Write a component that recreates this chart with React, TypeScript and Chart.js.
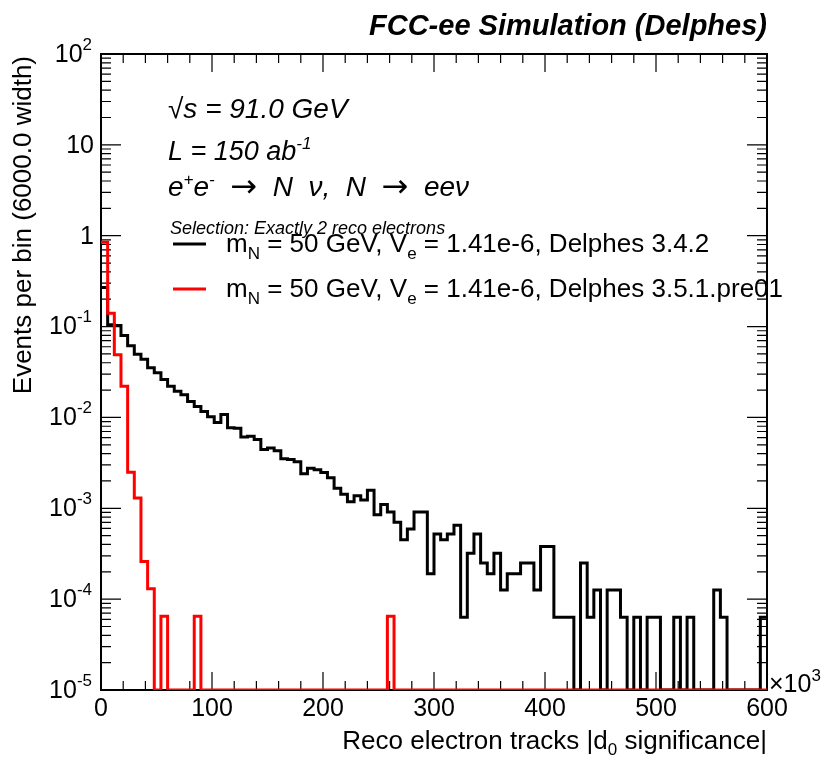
import React, { useEffect, useRef } from 'react';
import { Chart, registerables } from 'chart.js';

Chart.register(...registerables);

const W = 823;
const H = 761;

// Histogram definition (x in units of 10^3)
const X_MIN = 0;
const X_MAX = 600;
const BIN_WIDTH = 6;
const Y_MIN = 1e-5;
const Y_MAX = 1e2;

// Delphes 3.4.2 (black)
const blackValues = [
  0.27, 0.105, 0.103, 0.0795, 0.0616, 0.0497, 0.0437, 0.0353, 0.031, 0.0262,
  0.0221, 0.0194, 0.0178, 0.015, 0.0132, 0.0116, 0.0102, 0.0088, 0.0108, 0.0077,
  0.0076, 0.0061, 0.0062, 0.0057, 0.00445, 0.0046, 0.0043, 0.0035, 0.00345, 0.00326,
  0.0024, 0.00275, 0.00265, 0.00247, 0.00217, 0.00166, 0.00143, 0.00118, 0.00137, 0.00123,
  0.00158, 0.00085, 0.0011, 0.00091, 0.0007, 0.00045, 0.00059, 0.00091, 0.00091, 0.00019,
  0.00052, 0.00045, 0.00052, 0.00065, 0.000063, 0.00032, 0.00052, 0.00025, 0.00019, 0.00032,
  0.000126, 0.00019, 0.00019, 0.00025, 0.00025, 0.000126, 0.00038, 0.00038, 0.000063, 0.000063,
  0.000063, 0, 0.00025, 0.000063, 0.000126, 0, 0.000126, 0.000126, 0.000063, 0,
  0.000063, 0, 0.000063, 0.000063, 0, 0, 0.000063, 0, 0.000063, 0,
  0, 0, 0.000126, 0.000063, 0, 0, 0, 0, 0, 0.000063,
];

// Delphes 3.5.1.pre01 (red)
const redValues = [
  0.85, 0.14, 0.049, 0.022, 0.0025, 0.0013, 0.00026, 0.00013, 0, 0.000065,
  0, 0, 0, 0, 0.000065, 0, 0, 0, 0, 0,
  0, 0, 0, 0, 0, 0, 0, 0, 0, 0,
  0, 0, 0, 0, 0, 0, 0, 0, 0, 0,
  0, 0, 0, 0.000065, 0, 0, 0, 0, 0, 0,
  0, 0, 0, 0, 0, 0, 0, 0, 0, 0,
  0, 0, 0, 0, 0, 0, 0, 0, 0, 0,
  0, 0, 0, 0, 0, 0, 0, 0, 0, 0,
  0, 0, 0, 0, 0, 0, 0, 0, 0, 0,
  0, 0, 0, 0, 0, 0, 0, 0, 0, 0,
];

const xTickValues = [0, 100, 200, 300, 400, 500, 600];
const xTickLabels = ['0', '100', '200', '300', '400', '500', '600'];
const yTickExponents = [2, 1, 0, -1, -2, -3, -4, -5];

const blackLabel = { mass: '50 GeV', mixing: '1.41e-6', version: 'Delphes 3.4.2' };
const redLabel = { mass: '50 GeV', mixing: '1.41e-6', version: 'Delphes 3.5.1.pre01' };

const FONT = '"Liberation Sans", Arial, Helvetica, sans-serif';
const SYM_FONT = '"DejaVu Sans", sans-serif';

function histPoints(values: number[]) {
  const pts: { x: number; y: number }[] = [];
  values.forEach((v, i) => {
    pts.push({ x: X_MIN + i * BIN_WIDTH, y: v > 0 ? v : Y_MIN });
  });
  const last = values[values.length - 1];
  pts.push({ x: X_MIN + values.length * BIN_WIDTH, y: last > 0 ? last : Y_MIN });
  return pts;
}

type Seg = { t: string; size: number; dy?: number; style?: string; family?: string };

function drawRich(ctx: CanvasRenderingContext2D, segs: Seg[], x: number, y: number, align: 'left' | 'right' | 'center' = 'left') {
  const fontOf = (s: Seg) => `${s.style || ''} ${s.size}px ${s.family || FONT}`;
  const widths = segs.map((s) => {
    ctx.font = fontOf(s);
    return ctx.measureText(s.t).width;
  });
  const total = widths.reduce((a, b) => a + b, 0);
  let cx = align === 'right' ? x - total : align === 'center' ? x - total / 2 : x;
  ctx.textAlign = 'left';
  segs.forEach((s, i) => {
    ctx.font = fontOf(s);
    ctx.fillText(s.t, cx, y + (s.dy || 0));
    cx += widths[i];
  });
}

const framePlugin = {
  id: 'rootFrame',
  beforeDatasetsDraw(chart: any) {
    const ctx: CanvasRenderingContext2D = chart.ctx;
    const xs = chart.scales.x;
    const ys = chart.scales.y;
    const { left, right, top, bottom } = chart.chartArea;
    ctx.save();
    ctx.strokeStyle = '#000';
    ctx.lineWidth = 1.2;
    for (let v = X_MIN + 20; v < X_MAX; v += 20) {
      const px = xs.getPixelForValue(v);
      const len = v % 100 === 0 ? 18 : 9;
      ctx.beginPath();
      ctx.moveTo(px, bottom);
      ctx.lineTo(px, bottom - len);
      ctx.moveTo(px, top);
      ctx.lineTo(px, top + len);
      ctx.stroke();
    }
    for (let e = -5; e <= 1; e++) {
      for (let m = 1; m <= 9; m++) {
        const v = m * Math.pow(10, e);
        if (v <= Y_MIN || v >= Y_MAX) continue;
        const py = ys.getPixelForValue(v);
        const len = m === 1 ? 20 : 10;
        ctx.beginPath();
        ctx.moveTo(left, py);
        ctx.lineTo(left + len, py);
        ctx.moveTo(right, py);
        ctx.lineTo(right - len, py);
        ctx.stroke();
      }
    }
    ctx.lineWidth = 2;
    ctx.strokeRect(left, top, right - left, bottom - top);
    ctx.restore();
  },
  afterDraw(chart: any) {
    const ctx: CanvasRenderingContext2D = chart.ctx;
    const xs = chart.scales.x;
    const ys = chart.scales.y;
    const { right } = chart.chartArea;
    ctx.save();
    ctx.fillStyle = '#000';
    ctx.textBaseline = 'alphabetic';

    xTickValues.forEach((v, i) => {
      drawRich(ctx, [{ t: xTickLabels[i], size: 25 }], xs.getPixelForValue(v), 716, 'center');
    });
    drawRich(ctx, [{ t: '\u00d710', size: 25 }, { t: '3', size: 17, dy: -11 }], 769, 692, 'left');

    ctx.textBaseline = 'middle';
    yTickExponents.forEach((e) => {
      const py = ys.getPixelForValue(Math.pow(10, e)) + 1;
      if (e === 0) drawRich(ctx, [{ t: '1', size: 25 }], 94, py, 'right');
      else if (e === 1) drawRich(ctx, [{ t: '10', size: 25 }], 94, py, 'right');
      else drawRich(ctx, [{ t: '10', size: 25 }, { t: String(e), size: 17, dy: -10 }], 92, py, 'right');
    });
    ctx.textBaseline = 'alphabetic';

    drawRich(ctx, [
      { t: 'Reco electron tracks |d', size: 26 },
      { t: '0', size: 17, dy: 6 },
      { t: ' significance|', size: 26 },
    ], right, 749, 'right');

    ctx.save();
    ctx.translate(31, 56);
    ctx.rotate(-Math.PI / 2);
    drawRich(ctx, [{ t: 'Events per bin (6000.0 width)', size: 26 }], 0, 0, 'right');
    ctx.restore();

    drawRich(ctx, [{ t: 'FCC-ee Simulation (Delphes)', size: 29, style: 'italic bold' }], right, 35, 'right');

    drawRich(ctx, [{ t: '\u221as = 91.0 GeV', size: 28, style: 'italic' }], 168, 118);
    drawRich(ctx, [
      { t: 'L = 150 ab', size: 27, style: 'italic' },
      { t: '-1', size: 17, dy: -11, style: 'italic' },
    ], 168, 160);
    drawRich(ctx, [
      { t: 'e', size: 28, style: 'italic' },
      { t: '+', size: 17, dy: -11, style: 'italic' },
      { t: 'e', size: 28, style: 'italic' },
      { t: '-', size: 17, dy: -11, style: 'italic' },
      { t: '  ', size: 28 },
      { t: '\u2192', size: 32, family: SYM_FONT, dy: 1 },
      { t: '  N  \u03bd,  N  ', size: 28, style: 'italic' },
      { t: '\u2192', size: 32, family: SYM_FONT, dy: 1 },
      { t: '  ee\u03bd', size: 28, style: 'italic' },
    ], 168, 196);
    drawRich(ctx, [{ t: 'Selection: Exactly 2 reco electrons', size: 18, style: 'italic' }], 170, 234);

    const entries = [
      { lab: blackLabel, color: '#000000', y: 244 },
      { lab: redLabel, color: '#ff0000', y: 289 },
    ];
    entries.forEach((en) => {
      ctx.strokeStyle = en.color;
      ctx.lineWidth = 3;
      ctx.beginPath();
      ctx.moveTo(173, en.y);
      ctx.lineTo(206, en.y);
      ctx.stroke();
      drawRich(ctx, [
        { t: 'm', size: 26 },
        { t: 'N', size: 17, dy: 7 },
        { t: ` = ${en.lab.mass}, V`, size: 26 },
        { t: 'e', size: 17, dy: 7 },
        { t: ` = ${en.lab.mixing}, ${en.lab.version}`, size: 26 },
      ], 226, en.y + 8);
    });
    ctx.restore();
  },
};

export default function App() {
  const canvasRef = useRef<HTMLCanvasElement | null>(null);

  useEffect(() => {
    const canvas = canvasRef.current;
    if (!canvas) return;
    const chart = new Chart(canvas, {
      type: 'line',
      data: {
        datasets: [
          {
            label: 'Delphes 3.5.1.pre01',
            data: histPoints(redValues),
            borderColor: '#ff0000',
            borderWidth: 3,
            pointRadius: 0,
            stepped: 'before',
            fill: false,
            borderJoinStyle: 'miter',
          },
          {
            label: 'Delphes 3.4.2',
            data: histPoints(blackValues),
            borderColor: '#000000',
            borderWidth: 3,
            pointRadius: 0,
            stepped: 'before',
            fill: false,
            borderJoinStyle: 'miter',
          },
        ],
      },
      options: {
        responsive: false,
        animation: false,
        devicePixelRatio: 1,
        events: [],
        parsing: false as any,
        layout: { padding: { left: 101, right: W - 767, top: 54, bottom: H - 690 } },
        plugins: { legend: { display: false }, tooltip: { enabled: false }, title: { display: false } },
        scales: {
          x: { type: 'linear', min: X_MIN, max: X_MAX, display: false },
          y: { type: 'logarithmic', min: Y_MIN, max: Y_MAX, display: false },
        },
      },
      plugins: [framePlugin],
    });
    return () => chart.destroy();
  }, []);

  return (
    <div style={{ position: 'absolute', left: 0, top: 0, width: W, height: H, background: '#fff' }}>
      <canvas ref={canvasRef} width={W} height={H} style={{ display: 'block' }} />
    </div>
  );
}
